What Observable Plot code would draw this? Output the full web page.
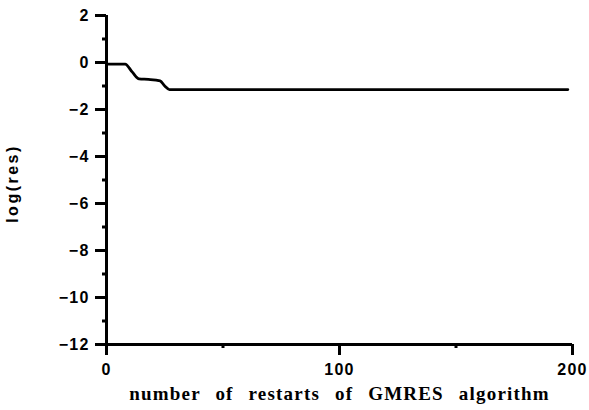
<!DOCTYPE html>
<html>
<head>
<meta charset="utf-8">
<script src="https://cdn.jsdelivr.net/npm/d3@7"></script>
<script src="https://cdn.jsdelivr.net/npm/@observablehq/plot@0.6"></script>
<style>
  html, body { margin: 0; padding: 0; background: #fff; }
  #chart svg { display: block; }
</style>
</head>
<body>
<div id="chart"></div>
<script>
// Data
const restarts = [0, 8, 11, 14, 18, 23, 25, 27, 50, 100, 150, 198];
const logRes   = [-0.07, -0.07, -0.4, -0.7, -0.72, -0.78, -1.0, -1.15, -1.15, -1.15, -1.15, -1.15];
const yMajorTicks = [-12, -10, -8, -6, -4, -2, 0, 2];
const yMinorTicks = [-11, -9, -7, -5, -3, -1, 1];
const xMajorTicks = [0, 100, 200];
const xMinorTicks = [50, 150];
const xLabel = "number of restarts of GMRES algorithm";
const yLabel = "log(res)";

const data = restarts.map((x, i) => ({x, y: logRes[i]}));

const sans = "'Liberation Sans', Arial, Helvetica, sans-serif";
const serif = "'Liberation Serif', 'Times New Roman', serif";

const chart = Plot.plot({
  width: 589,
  height: 410,
  marginLeft: 106,
  marginRight: 17,
  marginTop: 15,
  marginBottom: 66,
  style: {background: "#fff", color: "#000", fontFamily: sans},
  x: {domain: [0, 200]},
  y: {domain: [-12, 2]},
  marks: [
    Plot.axisY(yMajorTicks, {tickSize: 11, tickPadding: 6, strokeWidth: 3, fontSize: 16, fontWeight: "bold", label: null, className: "ytl"}),
    Plot.axisY(yMinorTicks, {tickSize: 4, strokeWidth: 3, tickFormat: () => "", label: null}),
    Plot.axisX(xMajorTicks, {tickSize: 11, tickPadding: 8, strokeWidth: 3, fontSize: 16, fontWeight: "bold", label: null, className: "xtl"}),
    Plot.axisX(xMinorTicks, {tickSize: 4, strokeWidth: 3, tickFormat: () => "", label: null}),
    Plot.ruleX([0], {strokeWidth: 3}),
    Plot.ruleY([-12], {strokeWidth: 3}),
    Plot.line(data, {x: "x", y: "y", curve: "monotone-x", strokeWidth: 2.8, stroke: "#000"}),
    Plot.text([yLabel], {text: d => d, frameAnchor: "left", textAnchor: "middle", fontSize: 16, fontWeight: "bold", fontFamily: sans, className: "ylab"}),
    Plot.text([xLabel], {text: d => d, frameAnchor: "bottom", dy: 55, fontSize: 19, fontWeight: "bold", fontFamily: serif, className: "xlab"})
  ]
});
document.getElementById("chart").appendChild(chart);
d3.select(chart).selectAll(".ylab text")
  .attr("transform", "translate(17,183) rotate(-90)")
  .attr("x", null).attr("y", null)
  .attr("text-anchor", "middle")
  .style("letter-spacing", "2.5px");
d3.select(chart).selectAll(".xlab text").style("letter-spacing", "1.2px").style("word-spacing", "9px");
d3.select(chart).selectAll(".ytl text, .xtl text").style("letter-spacing", "1.2px");
</script>
</body>
</html>
